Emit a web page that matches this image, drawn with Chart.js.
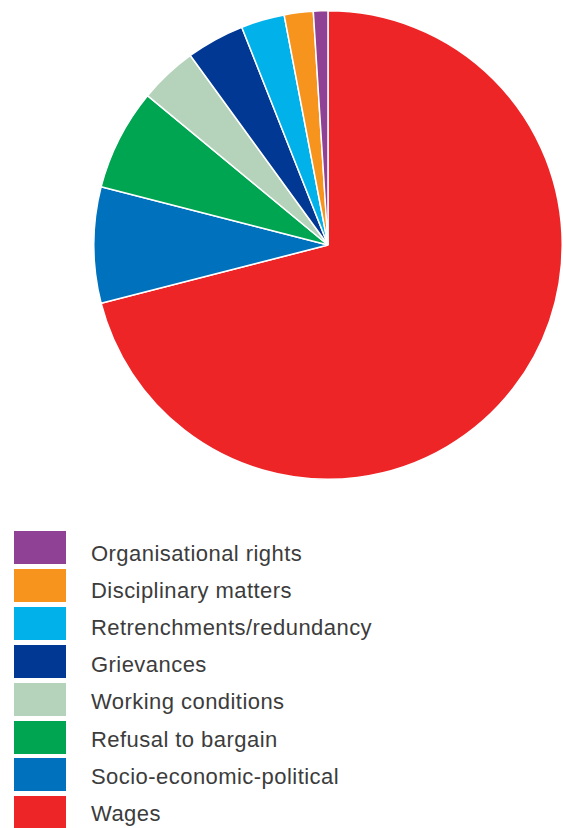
<!DOCTYPE html>
<html>
<head>
<meta charset="utf-8">
<script src="https://cdn.jsdelivr.net/npm/chart.js@4/dist/chart.umd.min.js"></script>
<style>
  html, body { margin: 0; padding: 0; background: #fff; }
  #wrap { position: relative; width: 563px; height: 828px; overflow: hidden; }
  #grafico { position: absolute; left: 0; top: 0; }
  .box { position: absolute; left: 14px; width: 52px; height: 33px; }
  .testo { position: absolute; left: 91px; height: 33px; line-height: 33px; white-space: nowrap;
           font-family: "Liberation Sans", Arial, sans-serif; font-size: 22px; letter-spacing: 0.45px;
           color: #3c3c3c; }
</style>
</head>
<body>
<div id="wrap">
  <canvas id="grafico" width="563" height="490"></canvas>
  <div id="legenda"></div>
</div>
<script>
// cause degli scioperi, in percentuale (ordine orario dalle 12)
var categorie = [
  'Wages',
  'Socio-economic-political',
  'Refusal to bargain',
  'Working conditions',
  'Grievances',
  'Retrenchments/redundancy',
  'Disciplinary matters',
  'Organisational rights'
];
var percentuali = [71, 8, 7, 4, 4, 3, 2, 1];
var colori = ['#ee2527', '#0071bc', '#00a551', '#b5d3ba', '#003893', '#00b1ea', '#f7941e', '#8e4195'];

var ctx = document.getElementById('grafico');
var chart = new Chart(ctx, {
  type: 'pie',
  data: {
    labels: categorie,
    datasets: [{
      data: percentuali,
      backgroundColor: colori,
      borderColor: '#ffffff',
      borderWidth: 1.5
    }]
  },
  options: {
    responsive: false,
    animation: false,
    devicePixelRatio: 1,
    layout: { padding: { left: 93, right: 0, top: 10, bottom: 10 } },
    plugins: {
      legend: { display: false },
      tooltip: { enabled: false }
    }
  }
});

// legenda: dall'ultima fetta alla prima
var legenda = document.getElementById('legenda');
for (var i = categorie.length - 1, riga = 0; i >= 0; i--, riga++) {
  var box = document.createElement('div');
  box.className = 'box';
  box.style.top = (531 + riga * 37.9) + 'px';
  box.style.background = colori[i];
  var testo = document.createElement('div');
  testo.className = 'testo';
  testo.style.top = (536.5 + riga * 37.2) + 'px';
  testo.textContent = categorie[i];
  legenda.appendChild(box);
  legenda.appendChild(testo);
}
</script>
</body>
</html>
